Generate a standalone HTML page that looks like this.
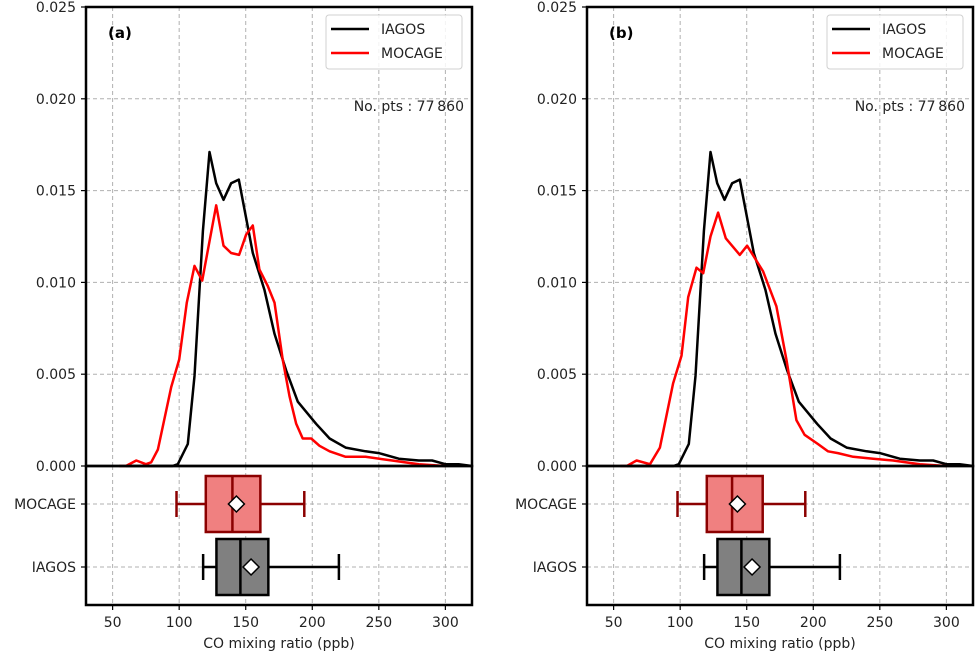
<!DOCTYPE html>
<html><head><meta charset="utf-8"><style>
body{margin:0;background:#fff;}
svg{display:block;font-family:"DejaVu Sans","Liberation Sans",sans-serif;}
</style></head><body>
<svg id="chart" width="976" height="657" viewBox="0 0 976 657" xmlns="http://www.w3.org/2000/svg"></svg>
<script>
const xTicks=[50,100,150,200,250,300];
const yTicks=[0,0.005,0.010,0.015,0.020,0.025];
const yTickLabels=["0.000","0.005","0.010","0.015","0.020","0.025"];
const boxCategories=["MOCAGE","IAGOS"];
const panelLabels=["(a)","(b)"];
const nPts="No. pts : 77\u2009860";
// IAGOS density (same both panels)
const iagosX=[60,95,99,106.5,111.5,117.8,122.8,127.8,133.3,139,144.8,155.3,164,171.6,180.4,189.1,202.9,213,225,240,250,265,280,290,300,310,320];
const iagosY=[0,0,0.0001,0.0012,0.0049,0.0128,0.0171,0.0154,0.0145,0.0154,0.0156,0.0116,0.0096,0.0072,0.0052,0.0035,0.0023,0.0015,0.001,0.0008,0.0007,0.0004,0.0003,0.0003,0.0001,0.0001,0];
// MOCAGE density panel a
const mocAX=[55,60,67.8,75,79,84,94,100,105.7,111.5,117.3,127.8,133.3,139,145,150.3,155.3,160.3,166.6,171.6,177.8,182.9,187.9,192.8,199.2,205.4,213,225,240,260,280,300];
const mocAY=[0,0,0.0003,0.0001,0.0002,0.0009,0.0043,0.0058,0.0089,0.0109,0.0101,0.0142,0.0120,0.0116,0.0115,0.0126,0.0131,0.0107,0.0098,0.0089,0.0058,0.0038,0.0023,0.0015,0.0015,0.0011,0.0008,0.0005,0.0005,0.0003,0.0001,0];
// MOCAGE density panel b
const mocBX=[55,60,67.3,77.3,84.8,94.7,101,106,112.3,117.3,122.8,128.5,134.3,144.8,150.3,162.3,172.3,179.8,187.3,193.5,203.5,211,218.5,230,245,260,280,300];
const mocBY=[0,0,0.0003,0.0001,0.001,0.0045,0.006,0.0092,0.0108,0.0105,0.0125,0.0138,0.0124,0.0115,0.012,0.0106,0.0087,0.0058,0.0025,0.0017,0.0012,0.0008,0.0007,0.0005,0.0004,0.0003,0.0001,0];
// box stats [whiskerLow, q1, median, q3, whiskerHigh, mean]
const boxMocA=[98,120,140,161,194,143];
const boxIagA=[118,128,146,167,220,154];
const boxMocB=[98,120,139,162,194,143];
const boxIagB=[118,128,146,167,220,154];

const NS="http://www.w3.org/2000/svg";
const svg=document.getElementById('chart');
function mk(tag,attrs,parent,name){const e=document.createElementNS(NS,tag);for(const k in attrs)e.setAttribute(k,attrs[k]);(parent||svg).appendChild(e);return e;}

function panel(idx,left,right,mocX,mocY,bm,bi){
  const top=7,bot=466,boxBot=605;
  const g=mk('g',{});
  
  
  const xs=v=>left+(v-30)/(320-30)*(right-left);
  const ys=v=>bot-(v/0.025)*(bot-top);
  const yc=[504,567];
  // grid
  xTicks.forEach(t=>{
    const l1=mk('line',{x1:xs(t),x2:xs(t),y1:top,y2:bot,stroke:'#b0b0b0','stroke-dasharray':'4,3','stroke-width':1},g);
    
    
    const l2=mk('line',{x1:xs(t),x2:xs(t),y1:bot,y2:boxBot,stroke:'#b0b0b0','stroke-dasharray':'4,3','stroke-width':1},g);
    
    
    mk('line',{x1:xs(t),x2:xs(t),y1:boxBot,y2:boxBot+5,stroke:'#000','stroke-width':1.2},g);
    const tx=mk('text',{x:xs(t),y:boxBot+22,'text-anchor':'middle','font-size':14,fill:'#222'},g);
    tx.textContent=t;
    
    
  });
  yTicks.forEach((t,i)=>{
    if(i>0&&i<yTicks.length-1){
      const l=mk('line',{x1:left,x2:right,y1:ys(t),y2:ys(t),stroke:'#b0b0b0','stroke-dasharray':'4,3','stroke-width':1},g);
      
      
    }
    mk('line',{x1:left-5,x2:left,y1:ys(t),y2:ys(t),stroke:'#000','stroke-width':1.2},g);
    const tx=mk('text',{x:left-10,y:ys(t)+5,'text-anchor':'end','font-size':14,fill:'#222'},g);
    tx.textContent=yTickLabels[i];
    
    
  });
  boxCategories.forEach((c,i)=>{
    const l=mk('line',{x1:left,x2:right,y1:yc[i],y2:yc[i],stroke:'#b0b0b0','stroke-dasharray':'4,3','stroke-width':1},g);
    
    
    mk('line',{x1:left-5,x2:left,y1:yc[i],y2:yc[i],stroke:'#000','stroke-width':1.2},g);
    const tx=mk('text',{x:left-10,y:yc[i]+5,'text-anchor':'end','font-size':14,fill:'#222'},g);
    tx.textContent=c;
    
    
  });
  // curves
  const path=(X,Y)=>X.map((v,i)=>(i?'L':'M')+xs(v).toFixed(1)+','+ys(Y[i]).toFixed(1)).join('');
  const pi=mk('path',{d:path(iagosX,iagosY),fill:'none',stroke:'#000','stroke-width':2.5,'stroke-linejoin':'round'},g);
  
  
  const pm=mk('path',{d:path(mocX,mocY),fill:'none',stroke:'#ff0000','stroke-width':2.5,'stroke-linejoin':'round'},g);
  
  
  // boxes
  function box(s,cy,fill,edge,name){
    const bg=mk('g',{},g);
    
    
    const h=28;
    mk('line',{x1:xs(s[0]),x2:xs(s[1]),y1:cy,y2:cy,stroke:edge,'stroke-width':2.5},bg);
    mk('line',{x1:xs(s[3]),x2:xs(s[4]),y1:cy,y2:cy,stroke:edge,'stroke-width':2.5},bg);
    mk('line',{x1:xs(s[0]),x2:xs(s[0]),y1:cy-h/2+1,y2:cy+h/2-1,stroke:edge,'stroke-width':2.5},bg);
    mk('line',{x1:xs(s[4]),x2:xs(s[4]),y1:cy-h/2+1,y2:cy+h/2-1,stroke:edge,'stroke-width':2.5},bg);
    mk('rect',{x:xs(s[1]),y:cy-h,width:xs(s[3])-xs(s[1]),height:2*h,fill:fill,stroke:edge,'stroke-width':2.5},bg);
    mk('line',{x1:xs(s[2]),x2:xs(s[2]),y1:cy-h,y2:cy+h,stroke:edge,'stroke-width':2.5},bg);
    const mx=xs(s[5]);
    mk('polygon',{points:`${mx},${cy-8} ${mx+8},${cy} ${mx},${cy+8} ${mx-8},${cy}`,fill:'#fff',stroke:'#000','stroke-width':1.5},bg);
  }
  box(bm,yc[0],'#f08080','#8b0000','mocage-box');
  box(bi,yc[1],'#808080','#000','iagos-box');
  // frames
  mk('rect',{x:left,y:top,width:right-left,height:bot-top,fill:'none',stroke:'#000','stroke-width':2.5},g);
  mk('rect',{x:left,y:bot,width:right-left,height:boxBot-bot,fill:'none',stroke:'#000','stroke-width':2.5},g);
  // labels
  const pl=mk('text',{x:left+22,y:38,'font-size':15,'font-weight':'bold',fill:'#000'},g);
  pl.textContent=panelLabels[idx];
  
  
  const np=mk('text',{x:right-8,y:111,'text-anchor':'end','font-size':14,fill:'#222'},g);
  np.textContent=nPts;
  
  
  const xl=mk('text',{x:(left+right)/2,y:648,'text-anchor':'middle','font-size':14,fill:'#222'},g);
  xl.textContent='CO mixing ratio (ppb)';
  
  
  // legend
  const lg=mk('g',{},g);
  
  
  const lx=right-146;
  mk('rect',{x:lx,y:15,width:136,height:54,rx:3,fill:'#fff','fill-opacity':0.85,stroke:'#d0d0d0'},lg);
  [['IAGOS','#000',29],['MOCAGE','#ff0000',53]].forEach(e=>{
    const le=mk('g',{},lg);
    
    
    mk('line',{x1:lx+5,x2:lx+43,y1:e[2],y2:e[2],stroke:e[1],'stroke-width':2.5},le);
    const t=mk('text',{x:lx+55,y:e[2]+5,'font-size':14,fill:'#222'},le);
    t.textContent=e[0];
  });
}
panel(0,86,472,mocAX,mocAY,boxMocA,boxIagA);
panel(1,587,973,mocBX,mocBY,boxMocB,boxIagB);
</script>
</body></html>
